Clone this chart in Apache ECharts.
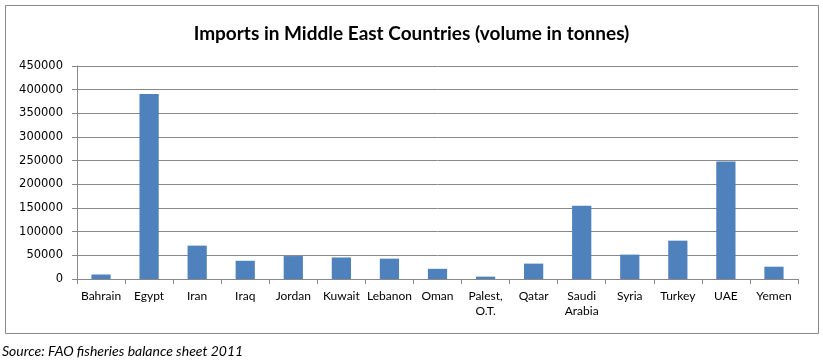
<!DOCTYPE html>
<html><head><meta charset="utf-8">
<script src="https://cdn.jsdelivr.net/npm/echarts@6/dist/echarts.min.js"></script>
<style>html,body{margin:0;padding:0;background:#fff}#c{width:823px;height:364px}</style>
</head><body><div id="c"></div>
<script>
const categories = ["Bahrain","Egypt","Iran","Iraq","Jordan","Kuwait","Lebanon","Oman","Palest,\nO.T.","Qatar","Saudi\nArabia","Syria","Turkey","UAE","Yemen"];
const imports = [9500, 391000, 70500, 38500, 48500, 45500, 43000, 21500, 5000, 32500, 154500, 51500, 81000, 248500, 26000];
const yTicks = [0, 50000, 100000, 150000, 200000, 250000, 300000, 350000, 400000, 450000];
const titleText = "Imports in Middle East Countries (volume in tonnes)";
const sourceText = "Source: FAO fisheries balance sheet 2011";

const chart = echarts.init(document.getElementById('c'), null, {renderer:'canvas'});
chart.setOption({
  animation:false,
  backgroundColor:'#fff',
  title:{text:titleText,left:'center',top:19,textStyle:{fontFamily:'Lato',fontWeight:'bold',fontSize:19,color:'#000'}},
  graphic:[
    {type:'rect',shape:{x:5.5,y:5.5,width:813,height:328},style:{fill:'none',stroke:'#888',lineWidth:1},z:-1},
    {type:'text',left:2,top:344,style:{text:sourceText,font:'italic 14px Lato',fill:'#000'}}
  ],
  grid:{left:77,right:25,top:66,bottom:85,containLabel:false},
  xAxis:{type:'category',data:categories,
    axisLine:{lineStyle:{color:'#888'}},
    axisTick:{show:true,length:5,lineStyle:{color:'#888'}},
    axisLabel:{interval:0,color:'#000',fontFamily:'Lato',fontSize:12,margin:10,lineHeight:15}},
  yAxis:{type:'value',min:yTicks[0],max:yTicks[yTicks.length-1],interval:yTicks[1]-yTicks[0],
    axisLine:{show:true,lineStyle:{color:'#888'}},
    axisTick:{show:true,length:5,lineStyle:{color:'#888'}},
    splitLine:{lineStyle:{color:'#888'}},
    axisLabel:{color:'#000',fontFamily:'DejaVu Sans',fontSize:11.5,margin:14,formatter:v=>String(v)}},
  series:[{type:'bar',data:imports,barWidth:'40%',itemStyle:{color:'#4F81BD'}}]
});
</script></body></html>
